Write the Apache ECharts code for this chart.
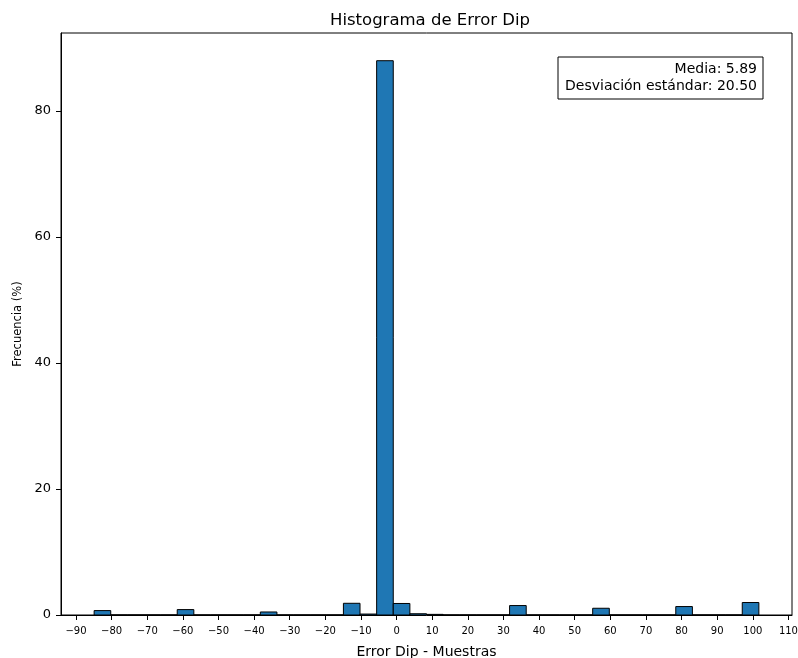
<!DOCTYPE html>
<html>
<head>
<meta charset="utf-8">
<script src="https://cdn.jsdelivr.net/npm/echarts@6/dist/echarts.min.js"></script>
<style>html,body{margin:0;padding:0;background:#fff}#c{width:798px;height:658px}</style>
</head>
<body>
<div id="c"></div>
<script>
// Histogram data (percent frequency per bin)
const binStart = -84.9;
const binWidth = 4.665;
const frequencies = [0.7, 0, 0, 0, 0, 0.86, 0, 0, 0, 0, 0.48, 0, 0, 0, 0, 1.86, 0.15, 88.0, 1.83, 0.2,
                     0.1, 0, 0, 0, 0, 1.5, 0, 0, 0, 0, 1.07, 0, 0, 0, 0, 1.34, 0, 0, 0, 1.98];
const xTicks = [-90, -80, -70, -60, -50, -40, -30, -20, -10, 0, 10, 20, 30, 40, 50, 60, 70, 80, 90, 100, 110];
const yTicks = [0, 20, 40, 60, 80];
const statLines = ['Media: 5.89', 'Desviación estándar: 20.50'];

const bins = frequencies.map((f, i) => [binStart + i * binWidth, binStart + (i + 1) * binWidth, f]);
const fmt = v => (v < 0 ? '\u2212' + Math.abs(v) : String(v));
const font = 'DejaVu Sans';

const chart = echarts.init(document.getElementById('c'), null, {renderer: 'canvas'});
chart.setOption({
  animation: false,
  backgroundColor: '#fff',
  title: {
    text: 'Histograma de Error Dip', left: 425, top: 7, textAlign: 'center',
    textStyle: {fontFamily: font, fontSize: 16.5, fontWeight: 'normal', color: '#000'}
  },
  grid: {left: 61, right: 6, top: 33, bottom: 43, containLabel: false, outerBoundsMode: 'none', show: true, borderColor: '#000', borderWidth: 1, backgroundColor: 'transparent'},
  xAxis: {
    type: 'value', min: -94.2, max: 111,
    name: 'Error Dip - Muestras', nameLocation: 'middle', nameGap: 30,
    nameTextStyle: {fontFamily: font, fontSize: 14, color: '#000'},
    splitLine: {show: false},
    axisLine: {show: true, onZero: false, lineStyle: {color: '#000', width: 1}},
    axisTick: {show: true, length: 5, lineStyle: {color: '#000'}, customValues: xTicks},
    axisLabel: {show: true, customValues: xTicks, formatter: fmt, fontFamily: font, fontSize: 10, color: '#000', margin: 11, showMinLabel: true, showMaxLabel: true, hideOverlap: false}
  },
  yAxis: {
    type: 'value', min: 0, max: 92.4,
    name: 'Frecuencia (%)', nameLocation: 'middle', nameGap: 37,
    nameTextStyle: {fontFamily: font, fontSize: 11.5, color: '#000'},
    splitLine: {show: false},
    axisLine: {show: true, onZero: false, lineStyle: {color: '#000', width: 1}},
    axisTick: {show: true, length: 5, lineStyle: {color: '#000'}, customValues: yTicks},
    axisLabel: {show: true, customValues: yTicks, fontFamily: font, fontSize: 13, color: '#000', margin: 10}
  },
  series: [{
    type: 'custom',
    data: bins,
    encode: {x: [0, 1], y: 2},
    clip: true,
    renderItem: (params, api) => {
      const p0 = api.coord([api.value(0), api.value(2)]);
      const p1 = api.coord([api.value(1), 0]);
      return {
        type: 'rect',
        shape: {x: p0[0], y: p0[1], width: p1[0] - p0[0], height: p1[1] - p0[1]},
        style: {fill: '#1f77b4', stroke: '#000', lineWidth: 1}
      };
    }
  }],
  graphic: [
    {type: 'rect', x: 558, y: 57, shape: {width: 205, height: 42}, style: {fill: '#fff', stroke: '#000', lineWidth: 1}, z: 100},
    {type: 'text', x: 757, y: 61, style: {text: statLines.join('\n'), fontFamily: font, fontSize: 14, lineHeight: 17, fill: '#000', align: 'right', verticalAlign: 'top'}, z: 101}
  ]
});
</script>
</body>
</html>
